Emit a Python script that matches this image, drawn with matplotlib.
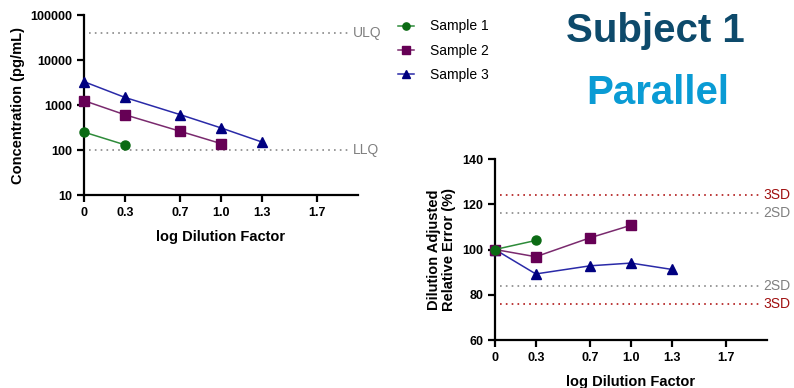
import matplotlib
matplotlib.use("Agg")
import matplotlib.pyplot as plt

plt.rcParams['font.family'] = ['Liberation Sans', 'DejaVu Sans']

# data
samples = ["Sample 1", "Sample 2", "Sample 3"]
dil_x = [[0, 0.3], [0, 0.3, 0.7, 1.0], [0, 0.3, 0.7, 1.0, 1.3]]
conc = [[250, 130], [1250, 606, 262, 139], [3300, 1469, 614, 310, 150]]
rel_err = [[100, 104], [100, 96.8, 105.2, 110.7], [100, 89.2, 92.8, 94.0, 91.2]]
x_ticks = [0, 0.3, 0.7, 1.0, 1.3, 1.7]
x_ticklabels = ["0", "0.3", "0.7", "1.0", "1.3", "1.7"]
conc_limits = {"ULQ": 40000, "LLQ": 100}
sd_limits = [("3SD", 124), ("2SD", 116), ("2SD", 84), ("3SD", 76)]

colors = ["#0b6b14", "#660055", "#000080"]
line_colors = ["#2e8b3a", "#7a2a6e", "#2a2aa8"]
markers = ["o", "s", "^"]


def style_axes(ax):
    for side in ["top", "right"]:
        ax.spines[side].set_visible(False)
    for side in ["left", "bottom"]:
        ax.spines[side].set_linewidth(1.6)
    ax.tick_params(width=1.6, length=5, labelsize=9)
    ax.set_xlim(0, 2.0)
    ax.set_xticks(x_ticks)
    ax.set_xticklabels(x_ticklabels, fontweight="bold")
    for lab in ax.get_yticklabels():
        lab.set_fontweight("bold")
    ax.set_xlabel("log Dilution Factor", fontsize=10.5, fontweight="bold", labelpad=8)


fig = plt.figure(figsize=(7.94, 3.88), dpi=100)

# left: concentration vs dilution
ax1 = fig.add_axes([0.1058, 0.4974, 0.345, 0.4639])
for i in range(3):
    ax1.plot(dil_x[i], conc[i], color=line_colors[i], lw=1.1, marker=markers[i],
             markersize=7 if markers[i] == "^" else 6.5, mfc=colors[i], mec=colors[i],
             label=samples[i], clip_on=False, zorder=3)
for name, val in conc_limits.items():
    ax1.plot([0.04, 1.94], [val, val], ls=(0, (1, 2.5)), color="#888888", lw=1.2, clip_on=False)
    ax1.text(1.96, val, name, color="#808080", fontsize=10, va="center", ha="left")
ax1.set_yscale("log")
ax1.set_ylim(10, 100000)
ax1.set_yticks([10, 100, 1000, 10000, 100000])
ax1.set_yticklabels(["10", "100", "1000", "10000", "100000"])
ax1.yaxis.set_minor_locator(matplotlib.ticker.NullLocator())
ax1.set_ylabel("Concentration (pg/mL)", fontsize=10.5, fontweight="bold")
style_axes(ax1)

leg = ax1.legend(loc="upper left", bbox_to_anchor=(1.1, 1.045), frameon=False,
                 fontsize=10, handlelength=1.2, labelspacing=0.75, handletextpad=1.1,
                 markerscale=0.8)

# right: dilution adjusted relative error
ax2 = fig.add_axes([0.6234, 0.1237, 0.3426, 0.4665])
for i in range(3):
    ax2.plot(dil_x[i], rel_err[i], color=line_colors[i], lw=1.1, marker=markers[i],
             markersize=7 if markers[i] == "^" else 6.5, mfc=colors[i], mec=colors[i],
             clip_on=False, zorder=3 - i * 0.1)
for name, val in sd_limits:
    c = "#b01818" if name == "3SD" else "#888888"
    ax2.plot([0.04, 1.94], [val, val], ls=(0, (1, 2.5)), color=c, lw=1.2, clip_on=False)
    ax2.text(1.97, val, name, color="#a01010" if name == "3SD" else "#808080",
             fontsize=10, va="center", ha="left")
ax2.set_ylim(60, 140)
ax2.set_yticks([60, 80, 100, 120, 140])
ax2.set_ylabel("Dilution Adjusted\nRelative Error (%)", fontsize=10.5, fontweight="bold",
               linespacing=1.1)
style_axes(ax2)

# titles
fig.text(0.826, 0.92, "Subject 1", color="#0d4a6b", fontsize=29, fontweight="bold",
         ha="center", va="center")
fig.text(0.829, 0.76, "Parallel", color="#0a9bd4", fontsize=29, fontweight="bold",
         ha="center", va="center")

fig.savefig("out.png", dpi=100)
